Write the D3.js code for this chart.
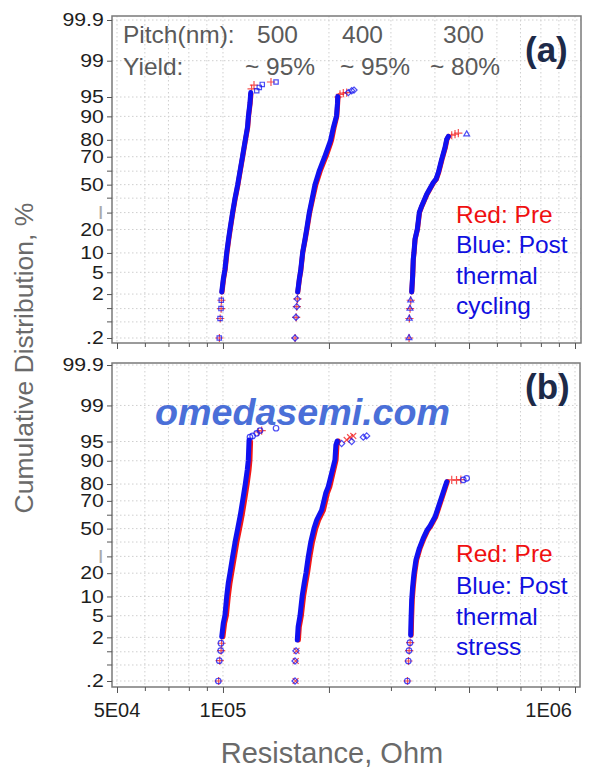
<!DOCTYPE html>
<html>
<head>
<meta charset="utf-8">
<script src="https://cdn.jsdelivr.net/npm/d3@7"></script>
<style>
  body { margin: 0; background: #fff; }
  text { font-family: "Liberation Sans", Arial, sans-serif; }
</style>
</head>
<body>
<svg id="chart" width="602" height="779"></svg>
<script>
// all points are [resistance (kOhm), cumulative %]
// "band" arrays = the dense part of the curve, "dots" = the loose points at both ends

// panel (a) - thermal cycling
const a500PreBand = [[99.4,2.2],[100.4,3.8],[101.5,5.6],[102.7,10.2],[103.9,15.3],[104.9,20.2],[106.7,30.1],[108.4,40],[110.3,50],[112.0,60.2],[113.9,70.5],[115.9,80],[117.6,86],[118.3,90.1],[119.5,93.7],[120.1,95.6]];
const a500PreDots = [[97.7,0.2],[98.2,0.6],[98.8,1.0],[99.0,1.5],[120.6,96.4],[122.5,96.9],[136.9,97.3]];
const a500PostBand = [[99.2,2.2],[100.2,3.8],[101.3,5.6],[102.5,10.2],[103.7,15.3],[104.7,20.2],[106.5,30.1],[108.2,40],[110.1,50],[111.8,60.2],[113.7,70.5],[115.7,80],[117.4,86],[118.1,90.1],[119.3,93.7],[119.9,95.8]];
const a500PostDots = [[97.6,0.2],[98.1,0.6],[98.7,1.0],[98.9,1.5],[124.7,96.1],[126.8,96.6],[129.3,97.0],[141.5,97.3]];

const a400PreBand = [[163.2,2.2],[164.9,3.8],[166.4,5.3],[168.6,10.2],[171.3,15.3],[173.3,20.2],[176.4,30.1],[180.0,40],[183.6,50],[189.0,60.2],[196.5,70.5],[201.8,77.6],[203.6,80],[207.0,86],[210.6,90.1],[211.8,93.7],[212.2,95.0]];
const a400PreDots = [[160.3,0.2],[161.4,0.64],[162.1,1.1],[162.8,1.6],[212.6,95.0],[215.0,95.5],[219.7,95.7],[224.6,95.8]];
const a400PostBand = [[163.0,2.2],[164.7,3.8],[166.2,5.3],[168.4,10.2],[171.0,15.3],[172.9,20.2],[175.9,30.1],[179.3,40],[182.5,50],[187.7,60.2],[194.9,70.5],[200.4,77.6],[202.3,80],[206.0,86],[210.1,90.1],[211.5,93.7],[211.8,95.1]];
const a400PostDots = [[160.2,0.2],[161.2,0.64],[162.0,1.1],[162.6,1.6],[227.0,95.8],[232.1,96.1],[235.6,96.2]];

const a300PreBand = [[343.8,2.2],[346.0,4.4],[347.4,8.1],[349.1,10.2],[351.5,15.3],[357.0,20.2],[361.8,30.1],[367.6,34.5],[380.0,42.9],[396.8,51.6],[404.0,54.1],[410.0,59],[419.3,68.4],[428.3,75.7],[433.0,80.3],[437.5,81.8]];
const a300PreDots = [[337.8,0.2],[338.5,0.6],[340.0,1.0],[341.5,1.5],[446.5,82.3],[456.2,82.8],[466.2,83.3]];
const a300PostBand = [[343.6,2.2],[345.8,4.4],[347.2,8.1],[348.8,10.2],[351.1,15.3],[356.5,20.2],[361.2,30.1],[366.9,34.5],[379.1,42.9],[395.8,51.6],[402.9,54.1],[409.0,59],[418.2,68.4],[427.3,75.7],[432.1,80.3],[436.7,81.7]];
const a300PostDots = [[337.6,0.2],[338.3,0.6],[339.8,1.0],[341.3,1.5],[492.4,82.8]];

// panel (b) - thermal stress
const b500PreBand = [[100.0,2.06],[101.1,3.7],[102.3,5.1],[103.6,10.2],[104.7,15.1],[105.9,20.2],[107.8,29.8],[109.5,39.8],[111.5,50],[113.4,60.1],[115.1,69.9],[117.1,79.9],[118.6,86.6],[119.3,90.2],[119.8,95.0]];
const b500PreDots = [[97.2,0.2],[97.9,0.63],[98.8,1.06],[99.1,1.52],[126.0,96.6],[128.8,96.8]];
const b500PostBand = [[99.2,2.06],[100.2,3.7],[101.3,5.1],[102.5,10.2],[103.5,15.1],[104.7,20.2],[106.5,29.8],[108.2,39.8],[110.1,50],[112.0,60.1],[113.7,69.9],[115.7,79.9],[117.2,86.6],[118.0,90.2],[118.6,95.3]];
const b500PostDots = [[97.0,0.2],[97.6,0.63],[98.5,1.06],[98.7,1.52],[119.3,95.8],[121.4,96.0],[124.7,96.4],[127.4,96.8],[141.5,97.1]];

const b400PreBand = [[163.8,1.77],[164.8,3.2],[167.0,5.0],[169.5,10.2],[171.8,15.1],[173.9,20.2],[176.6,29.8],[179.5,39.8],[183.4,50],[186.9,56.4],[193.0,63.7],[198.0,74.8],[201.2,78.6],[205.4,85.2],[209.6,90.3],[210.8,94.3],[212.5,95.1]];
const b400PreDots = [[160.8,0.2],[161.0,0.62],[161.8,1.05],[224.6,95.3],[229.6,95.8],[234.5,96.0]];
const b400PostBand = [[162.6,1.77],[163.5,3.2],[165.5,5.0],[167.9,10.2],[170.1,15.1],[172.1,20.2],[174.7,29.8],[177.5,39.8],[181.3,50],[184.6,56.4],[190.7,63.7],[195.8,74.8],[199.1,78.6],[203.5,85.2],[208.0,90.3],[209.3,94.3],[211.1,95.1]];
const b400PostDots = [[160.2,0.2],[160.2,0.62],[161.2,1.05],[217.3,94.6],[232.1,95.0],[250.4,95.8],[256.0,96.0]];

const b300PreBand = [[342.6,2.2],[343.4,4.2],[345.0,8.9],[347.3,13.6],[350.4,19.9],[355.0,27.7],[363.0,35.5],[372.4,42.7],[382.2,49],[389.4,52],[402.4,58.9],[411.2,66],[420.2,72.6],[429.2,78.6],[434.0,81.3]];
const b300PreDots = [[334.3,0.2],[336.5,0.62],[338.0,1.06],[340.2,1.56],[446.5,82.1],[460.7,82.0],[474.0,82.3]];
const b300PostBand = [[341.3,2.2],[342.1,4.2],[343.6,8.9],[345.8,13.6],[348.8,19.9],[353.3,27.7],[361.2,35.5],[370.5,42.7],[380.3,49],[387.4,52],[400.4,58.9],[409.2,66],[418.2,72.6],[427.3,78.6],[432.1,81.2]];
const b300PostDots = [[333.9,0.2],[336.1,0.62],[337.6,1.06],[339.8,1.56],[481.6,82.1],[492.4,82.9]];

// axes
const yTicks = [0.2, 0.5, 1, 2, 5, 10, 20, 30, 40, 50, 60, 70, 80, 90, 95, 99, 99.9];
const yTickLabels = {0.2: ".2", 2: "2", 5: "5", 10: "10", 20: "20", 30: "I", 50: "50", 70: "70", 80: "80", 90: "90", 95: "95", 99: "99", 99.9: "99.9"};
const xTicks = [50, 60, 70, 80, 90, 100, 200, 300, 400, 500, 600, 700, 800, 900, 1000];
const xMajor = [50, 100, 200, 500, 1000];
const xTickLabels = {50: "5E04", 100: "1E05", 1000: "1E06"};

const pitchLabels = ["500", "400", "300"];
const yieldLabels = ["~ 95%", "~ 95%", "~ 80%"];

const RED = "#f21616", BLUE = "#1010f0";
const symPlus = d3.symbolPlus || d3.symbolCross;
const symTimes = d3.symbolTimes || d3.symbolX || d3.symbolCross;
const symSquare = d3.symbolSquare2 || d3.symbolSquare;
const symDiamond = d3.symbolDiamond2 || d3.symbolDiamond;
const symTriangle = d3.symbolTriangle2 || d3.symbolTriangle;

// inverse normal cdf (Acklam), used for the probability axis
function probit(p) {
  const a = [-3.969683028665376e+01, 2.209460984245205e+02, -2.759285104469687e+02, 1.383577518672690e+02, -3.066479806614716e+01, 2.506628277459239e+00];
  const b = [-5.447609879822406e+01, 1.615858368580409e+02, -1.556989798598866e+02, 6.680131188771972e+01, -1.328068155288572e+01];
  const c = [-7.784894002430293e-03, -3.223964580411365e-01, -2.400758277161838e+00, -2.549732539343734e+00, 4.374664141464968e+00, 2.938163982698783e+00];
  const d = [7.784695709041462e-03, 3.224671290700398e-01, 2.445134137142996e+00, 3.754408661907416e+00];
  const pl = 0.02425;
  if (p < pl) {
    const q = Math.sqrt(-2 * Math.log(p));
    return (((((c[0]*q+c[1])*q+c[2])*q+c[3])*q+c[4])*q+c[5]) / ((((d[0]*q+d[1])*q+d[2])*q+d[3])*q+1);
  }
  if (p > 1 - pl) {
    const q = Math.sqrt(-2 * Math.log(1 - p));
    return -(((((c[0]*q+c[1])*q+c[2])*q+c[3])*q+c[4])*q+c[5]) / ((((d[0]*q+d[1])*q+d[2])*q+d[3])*q+1);
  }
  const q = p - 0.5, r = q * q;
  return (((((a[0]*r+a[1])*r+a[2])*r+a[3])*r+a[4])*r+a[5])*q / (((((b[0]*r+b[1])*r+b[2])*r+b[3])*r+b[4])*r+1);
}

// makes a scale usable by d3.axis: percent -> pixel on a normal probability grid
function probScale(range) {
  const lin = d3.scaleLinear().domain([probit(0.002), probit(0.999)]).range(range);
  const s = v => lin(probit(v / 100));
  s.copy = () => s;
  s.domain = () => [0.2, 99.9];
  s.range = () => lin.range();
  return s;
}

const svg = d3.select("#chart");
const x = d3.scaleLog().domain([50, 1000]).range([117, 575]);

const panels = [
  {
    top: 16, bottom: 343, right: 581, yRange: [338, 20],
    tag: "(a)", tagY: 62, legendY: [223, 253, 284, 314], legendLast: "cycling",
    series: [
      {band: a500PreBand, dots: a500PreDots, color: RED, sym: symPlus},
      {band: a400PreBand, dots: a400PreDots, color: RED, sym: symPlus},
      {band: a300PreBand, dots: a300PreDots, color: RED, sym: symPlus},
      {band: a500PostBand, dots: a500PostDots, color: BLUE, sym: symSquare},
      {band: a400PostBand, dots: a400PostDots, color: BLUE, sym: symDiamond},
      {band: a300PostBand, dots: a300PostDots, color: BLUE, sym: symTriangle}
    ]
  },
  {
    top: 363, bottom: 687, right: 580, yRange: [681, 365],
    tag: "(b)", tagY: 399, legendY: [562, 594, 625, 655], legendLast: "stress",
    series: [
      {band: b500PreBand, dots: b500PreDots, color: RED, sym: symPlus},
      {band: b400PreBand, dots: b400PreDots, color: RED, sym: symTimes},
      {band: b300PreBand, dots: b300PreDots, color: RED, sym: symPlus},
      {band: b500PostBand, dots: b500PostDots, color: BLUE, sym: d3.symbolCircle},
      {band: b400PostBand, dots: b400PostDots, color: BLUE, sym: symDiamond},
      {band: b300PostBand, dots: b300PostDots, color: BLUE, sym: d3.symbolCircle}
    ]
  }
];

const left = 112;

panels.forEach((p, pi) => {
  const y = probScale(p.yRange);
  const g = svg.append("g");

  // dotted grid
  g.append("g")
    .selectAll("line.hg")
    .data(yTicks)
    .join("line")
    .attr("x1", left).attr("x2", p.right)
    .attr("y1", d => y(d)).attr("y2", d => y(d))
    .attr("stroke", "#cfcfcf").attr("stroke-dasharray", "1.5,2.5");
  g.append("g")
    .selectAll("line.vg")
    .data(xTicks)
    .join("line")
    .attr("x1", d => x(d)).attr("x2", d => x(d))
    .attr("y1", p.top).attr("y2", p.bottom)
    .attr("stroke", "#cfcfcf").attr("stroke-dasharray", "1.5,2.5");

  // frame
  g.append("rect")
    .attr("x", left).attr("y", p.top)
    .attr("width", p.right - left).attr("height", p.bottom - p.top)
    .attr("fill", "none").attr("stroke", "#7a7a7a").attr("stroke-width", 1.5);

  // y axis ticks + labels (the original digits are a bit stretched sideways)
  const yAxis = g.append("g")
    .attr("transform", `translate(${left},0)`)
    .call(d3.axisLeft(y).tickValues(yTicks.filter(d => yTickLabels[d])).tickSize(5).tickPadding(2)
      .tickFormat(d => yTickLabels[d]));
  yAxis.select(".domain").remove();
  yAxis.selectAll(".tick line").attr("stroke", "#555");
  yAxis.selectAll(".tick text")
    .attr("transform", "scale(1.18,1)")
    .style("font-family", '"Liberation Sans", Arial, sans-serif')
    .style("font-size", "18px")
    .attr("fill", d => d === 30 ? "#aaa" : "#1e1e1e");
  // unlabeled y ticks
  g.append("g")
    .selectAll("line")
    .data(yTicks.filter(d => !yTickLabels[d]))
    .join("line")
    .attr("x1", left - 5).attr("x2", left)
    .attr("y1", d => y(d)).attr("y2", d => y(d))
    .attr("stroke", "#555");

  // x axis ticks (labels only on the lower panel)
  const xAxis = g.append("g")
    .attr("transform", `translate(0,${p.bottom})`)
    .call(d3.axisBottom(x).tickValues(xTicks).tickSize(4).tickFormat(""));
  xAxis.select(".domain").remove();
  xAxis.selectAll(".tick line")
    .attr("stroke", "#555")
    .attr("y2", d => xMajor.includes(d) ? 6 : 4);
  if (pi === 1) {
    g.selectAll("text.xl")
      .data(xTicks.filter(d => xTickLabels[d]))
      .join("text")
      .attr("x", d => d === 1000 ? x(d) - 3 : x(d))
      .attr("y", 717)
      .attr("text-anchor", d => d === 1000 ? "end" : "middle")
      .attr("font-size", 20)
      .attr("fill", "#1e1e1e")
      .text(d => xTickLabels[d]);
  }

  // data
  const line = d3.line().x(d => x(d[0])).y(d => y(d[1]));
  p.series.forEach(s => {
    g.append("path")
      .attr("d", line(s.band))
      .attr("fill", "none")
      .attr("stroke", s.color)
      .attr("stroke-width", 5)
      .attr("stroke-linecap", "round")
      .attr("stroke-linejoin", "round");
    g.selectAll(null)
      .data(s.dots)
      .join("path")
      .attr("transform", d => `translate(${x(d[0])},${y(d[1])})`)
      .attr("d", d3.symbol().type(s.sym).size(24))
      .attr("fill", "none")
      .attr("stroke", s.color)
      .attr("stroke-opacity", 0.75)
      .attr("stroke-width", 1.2);
  });

  // panel tag
  g.append("text")
    .attr("x", 525).attr("y", p.tagY)
    .attr("font-size", 35).attr("font-weight", "bold")
    .attr("fill", "#1d2a48")
    .text(p.tag);

  // legend text
  const legend = [
    {t: "Red: Pre", c: "#f01010"},
    {t: "Blue: Post", c: "#1010e0"},
    {t: "thermal", c: "#1010e0"},
    {t: p.legendLast, c: "#1010e0"}
  ];
  g.selectAll("text.lg")
    .data(legend)
    .join("text")
    .attr("x", 456)
    .attr("y", (d, i) => p.legendY[i])
    .attr("font-size", 24.5)
    .attr("fill", d => d.c)
    .text(d => d.t);
});

// pitch / yield header in panel (a)
const head = svg.append("g").attr("fill", "#5a5a5a").attr("font-size", 24.5);
head.append("text").attr("x", 123).attr("y", 43).text("Pitch(nm):");
head.append("text").attr("x", 123).attr("y", 75).text("Yield:");
const pitchX = [257, 342, 443], yieldX = [245, 340, 430];
head.selectAll("text.pitch").data(pitchLabels).join("text")
  .attr("x", (d, i) => pitchX[i]).attr("y", 43).text(d => d);
head.selectAll("text.yield").data(yieldLabels).join("text")
  .attr("x", (d, i) => yieldX[i]).attr("y", 75).text(d => d);

// watermark
svg.append("text")
  .attr("x", 155).attr("y", 425)
  .attr("font-size", 37).attr("font-weight", "bold").attr("font-style", "italic")
  .attr("textLength", 295).attr("lengthAdjust", "spacingAndGlyphs")
  .attr("fill", "#4a6fd8")
  .text("omedasemi.com");

// axis titles
svg.append("text")
  .attr("transform", "translate(33,358) rotate(-90)")
  .attr("text-anchor", "middle")
  .attr("font-size", 26.5)
  .attr("fill", "#6a6a6a")
  .text("Cumulative Distribution, %");
svg.append("text")
  .attr("x", 332).attr("y", 763)
  .attr("text-anchor", "middle")
  .attr("font-size", 29)
  .attr("fill", "#6a6a6a")
  .text("Resistance, Ohm");
</script>
</body>
</html>
